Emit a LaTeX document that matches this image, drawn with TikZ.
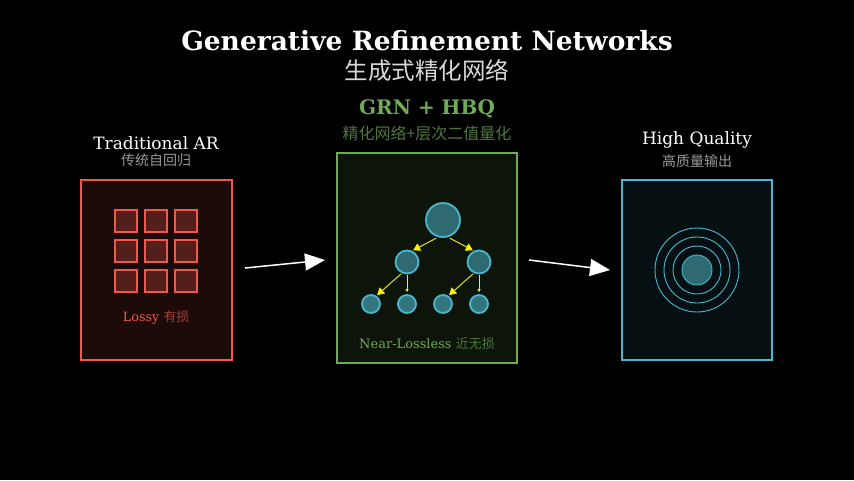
\documentclass[tikz,border=0pt]{standalone}
\usepackage{fontspec}
\newfontfamily\cjk{Noto Sans CJK SC}
\setmainfont{DejaVu Serif}
\usetikzlibrary{arrows.meta}
\definecolor{red1}{HTML}{F0584C}
\definecolor{grn}{HTML}{6FAA55}
\definecolor{cyn}{HTML}{48B8D0}
\definecolor{teal1}{HTML}{2F6A70}
\tikzset{
 sq/.style={draw=red1,line width=1.8pt,fill=red1!35!black,minimum size=22pt,inner sep=0},
 nd/.style={circle,draw=cyn,line width=1.8pt,fill=teal1,inner sep=0},
 ya/.style={draw=yellow,line width=0.9pt,-{Triangle[length=7pt,width=8pt]}},
 ys/.style={draw=yellow,line width=0.7pt,-{Triangle[length=3pt,width=3pt]}},
 wa/.style={draw=white,line width=1.5pt,-{Triangle[length=20pt,width=17pt]}},
 ring/.style={draw=cyn,line width=0.9pt},
}
\begin{document}
\begin{tikzpicture}[x=1pt,y=-1pt]
\fill[black] (0,0) rectangle (854,480);
\useasboundingbox (0,0) rectangle (854,480);
\node[white,font=\bfseries\fontsize{26.5}{30}\selectfont] (t1) at (427,41) {Generative Refinement Networks};
\node[white!85!black,font=\cjk\fontsize{23.5}{26}\selectfont] (t2) at (427,70) {生成式精化网络};
% left
\node[white,font=\fontsize{17}{20}\selectfont] (la) at (156,143) {Traditional AR};
\node[white!60!black,font=\cjk\fontsize{14}{16}\selectfont] (lb) at (156,160) {传统自回归};
\draw[red1,line width=1.8pt,fill=red1!12!black] (81,180) rectangle (232,360);
\foreach \i/\x in {1/126,2/156,3/186}{\foreach \j/\y in {1/221,2/251,3/281}{\node[sq] (s\i\j) at (\x,\y) {};}}
\node[font=\fontsize{12.8}{15}\selectfont] (ll) at (156,318) {\textcolor{red1}{Lossy} \textcolor{red1!70!black}{\cjk 有损}};
% middle
\node[grn,font=\bfseries\fontsize{20}{24}\selectfont] (ma) at (427,109) {GRN + HBQ};
\node[grn!70!black,font=\cjk\fontsize{16}{19}\selectfont] (mb) at (427,133) {精化网络+层次二值量化};
\draw[grn,line width=1.5pt,fill=grn!12!black] (337,153) rectangle (517,363);
\node[nd,minimum size=34pt] (r) at (443,220) {};
\node[nd,minimum size=23pt] (m1) at (407,262) {};
\node[nd,minimum size=23pt] (m2) at (479,262) {};
\foreach \k/\x in {1/371,2/407,3/443,4/479}{\node[nd,minimum size=18pt,fill=teal1!85!cyn] (f\k) at (\x,304) {};}
\draw[ya,shorten <=2pt,shorten >=1pt] (r.254) -- (m1.65);
\draw[ya,shorten <=2pt,shorten >=1pt] (r.286) -- (m2.115);
\draw[ya,shorten <=1pt,shorten >=1pt] (m1.245) -- (f1.57);
\draw[ys,shorten <=1pt,shorten >=2pt] (m1.270) -- (f2.90);
\draw[ya,shorten <=1pt,shorten >=1pt] (m2.245) -- (f3.57);
\draw[ys,shorten <=1pt,shorten >=2pt] (m2.270) -- (f4.90);
\node[font=\fontsize{13}{15}\selectfont] (ml) at (427,344) {\textcolor{grn}{Near-Lossless} \textcolor{grn!70!black}{\cjk 近无损}};
% right
\node[white,font=\fontsize{17}{20}\selectfont] (ra) at (697,140) {High Quality};
\node[white!60!black,font=\cjk\fontsize{14}{16}\selectfont] (rb) at (697,161) {高质量输出};
\draw[cyn,line width=1.5pt,fill=cyn!8!black] (622,180) rectangle (772,360);
\node[circle,ring,minimum size=84pt,inner sep=0] (c1) at (697,270) {};
\node[circle,ring,minimum size=66pt,inner sep=0] (c2) at (697,270) {};
\node[circle,ring,minimum size=48pt,inner sep=0] (c3) at (697,270) {};
\node[circle,ring,fill=teal1,minimum size=30pt,inner sep=0] (c4) at (697,270) {};
% arrows
\coordinate (a1) at (245,268); \coordinate (a2) at (325,260);
\coordinate (b1) at (529,260); \coordinate (b2) at (610,270);
\draw[wa] (a1) -- (a2);
\draw[wa] (b1) -- (b2);
\end{tikzpicture}
\end{document}
